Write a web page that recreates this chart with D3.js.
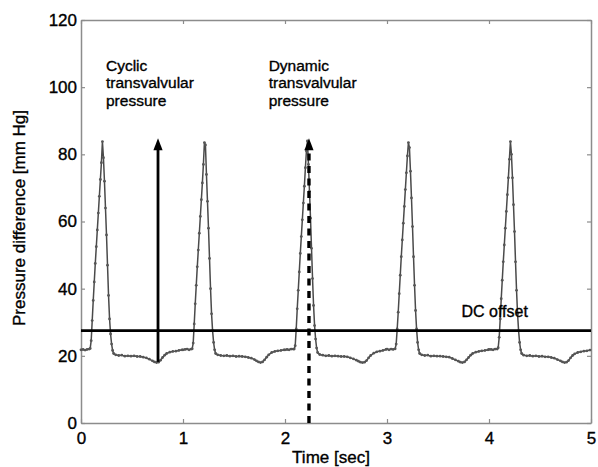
<!doctype html>
<html>
<head>
<meta charset="utf-8">
<style>
  body { margin: 0; background: #fff; }
  svg { font-family: "Liberation Sans", Arial, Helvetica, sans-serif; }
  svg text { stroke: #000; stroke-width: 0.35px; }
</style>
<script src="https://cdn.jsdelivr.net/npm/d3@7"></script>
</head>
<body>
<svg id="chart" width="598" height="467"></svg>
<script>

// sample instants inside one beat (sec after beat start)
var sampleOffsets = [0,0.02,0.04,0.06,0.08,
  0.09,0.10,0.11,0.12,0.13,0.14,0.15,0.16,0.17,0.18,0.19,0.20,0.21,0.22,0.23,0.24,0.25,0.26,0.27,0.28,0.29,0.30,0.31,0.32,
  0.34,0.37,0.40,0.43,0.46,0.49,0.52,0.55,0.58,0.61,0.64,0.67,0.70,
  0.72,0.74,0.76,0.78,0.80,0.82,0.84,
  0.87,0.90,0.93,0.96,0.99];
var beatStart = [0, 1, 2, 3, 4];

// pressure difference [mm Hg], one array per beat
var beat1 = [21.8,21.9,21.7,21.9,22.0,
  22.2,24.5,30.5,36.5,42.0,47.5,52.5,57.5,62.5,67.5,72.5,77.5,83.8,79.0,72.0,64.0,56.0,47.0,38.0,31.0,26.5,23.5,21.6,20.7,
  20.3,20.1,20.2,19.9,20.0,19.9,20.0,19.8,19.8,19.6,19.4,19.0,18.5,
  18.2,18.0,18.1,18.7,19.5,20.2,20.7,
  21.1,21.3,21.4,21.6,21.8];
var beat2 = [21.8,21.9,22.0,21.8,22.0,
  22.1,23.8,29.5,35.5,41.0,46.5,51.5,56.5,61.5,66.5,71.5,77.0,83.5,82.8,74.0,66.0,58.0,49.0,40.0,32.5,27.5,24.0,21.8,20.7,
  20.3,20.1,20.0,20.1,19.9,20.0,19.8,19.9,19.8,19.7,19.5,19.3,18.9,
  18.5,18.2,18.0,18.2,18.8,19.6,20.3,
  21.0,21.3,21.5,21.6,21.8];
var beat3 = [21.8,21.9,21.8,22.0,22.0,
  22.0,23.0,28.0,34.0,39.5,45.0,50.5,55.5,60.5,65.5,70.5,76.0,81.0,84.0,77.0,69.0,61.0,52.0,43.0,35.0,29.0,25.0,22.3,21.0,
  20.4,20.2,20.0,20.1,19.9,20.0,19.9,19.8,19.8,19.7,19.4,19.1,18.7,
  18.4,18.1,18.0,18.1,18.6,19.4,20.1,
  20.8,21.2,21.4,21.6,21.9];
var beat4 = [22.0,21.8,22.0,21.9,22.1,
  23.5,28.0,33.0,38.5,44.0,49.5,54.5,59.5,64.5,69.5,74.5,79.5,83.5,82.0,75.0,67.0,58.5,49.5,41.0,33.5,28.0,24.0,21.8,20.7,
  20.3,20.1,20.2,19.9,20.0,19.9,19.9,19.8,19.7,19.6,19.2,18.8,18.4,
  18.1,18.0,18.2,18.8,19.5,20.2,20.7,
  21.1,21.3,21.5,21.6,21.8];
var beat5 = [21.9,21.9,21.8,22.0,22.0,
  22.4,25.5,31.0,37.0,42.5,48.0,53.0,58.0,63.0,68.0,73.0,78.5,83.8,80.0,73.0,65.0,57.0,48.0,39.5,32.5,27.5,24.0,21.8,20.7,
  20.2,20.0,20.1,19.9,20.0,19.8,19.9,19.7,19.7,19.5,19.3,18.9,18.5,
  18.2,18.0,18.1,18.6,19.4,20.1,20.6,
  21.0,21.2,21.4,21.5,21.7];
var beats = [beat1, beat2, beat3, beat4, beat5];

var xTicks = [0, 1, 2, 3, 4, 5];
var yTicks = [0, 20, 40, 60, 80, 100, 120];
var dcOffset = 27.5;

// annotation arrows: time, start value, tip value
var arrowTimes = [0.755, 2.235];
var arrowFrom = [18.2, 0];
var arrowTo = [84.8, 84.8];

var noteLines = [["Cyclic", "transvalvular", "pressure"], ["Dynamic", "transvalvular", "pressure"], ["DC offset"]];
var noteTimes = [0.245, 1.84, 3.73];
var noteValues = [104.8, 104.8, 31.6];

var points = [];
beats.forEach(function(b, i) {
  b.forEach(function(v, j) { points.push({t: beatStart[i] + sampleOffsets[j], p: v}); });
});

var svg = d3.select("#chart");
var x = d3.scaleLinear().domain([0, 5]).range([81, 591]);
var y = d3.scaleLinear().domain([0, 120]).range([423, 20]);
var axisGrey = "#8c8c8c";

function styleAxis(g) {
  g.select(".domain").attr("stroke", axisGrey).attr("stroke-width", 1.5);
  g.selectAll(".tick line").attr("stroke", axisGrey).attr("stroke-width", 1.2);
  g.selectAll(".tick text").attr("fill", "#000");
}

svg.append("g").attr("transform", "translate(0,423)")
  .call(d3.axisBottom(x).tickValues(xTicks).tickSize(-4).tickSizeOuter(0).tickPadding(8.5).tickFormat(d3.format("d")))
  .call(styleAxis).attr("font-size", 17).attr("font-family", null);
svg.append("g").attr("transform", "translate(0,20)")
  .call(d3.axisTop(x).tickValues(xTicks).tickSize(-4).tickSizeOuter(0).tickFormat(""))
  .call(styleAxis);
svg.append("g").attr("transform", "translate(81,0)")
  .call(d3.axisLeft(y).tickValues(yTicks).tickSize(-4).tickSizeOuter(0).tickPadding(4).tickFormat(d3.format("d")))
  .call(styleAxis).attr("font-size", 17).attr("font-family", null);
svg.append("g").attr("transform", "translate(591,0)")
  .call(d3.axisRight(y).tickValues(yTicks).tickSize(-4).tickSizeOuter(0).tickFormat(""))
  .call(styleAxis);

// waveform
var line = d3.line().x(function(d) { return x(d.t); }).y(function(d) { return y(d.p); });
svg.append("path").datum(points)
  .attr("fill", "none").attr("stroke", "#4a4a4a").attr("stroke-width", 1.5)
  .attr("d", line);
svg.append("g").selectAll("circle").data(points).enter().append("circle")
  .attr("cx", function(d) { return x(d.t); })
  .attr("cy", function(d) { return y(d.p); })
  .attr("r", 1.4).attr("fill", "#555");

// DC offset line
svg.append("line")
  .attr("x1", x(0)).attr("x2", x(5)).attr("y1", y(dcOffset)).attr("y2", y(dcOffset))
  .attr("stroke", "#000").attr("stroke-width", 2.6);

// arrows
var headLen = 12, headHalf = 4.6;
arrowTimes.forEach(function(t, i) {
  var ax = x(t), tip = y(arrowTo[i]);
  svg.append("line")
    .attr("x1", ax).attr("x2", ax).attr("y1", y(arrowFrom[i])).attr("y2", tip + headLen - 1)
    .attr("stroke", "#000").attr("stroke-width", i === 0 ? 2.8 : 3.4)
    .attr("stroke-dasharray", i === 0 ? null : "7,5.5");
  svg.append("path")
    .attr("d", "M" + ax + "," + tip + "L" + (ax + headHalf) + "," + (tip + headLen) + "L" + (ax - headHalf) + "," + (tip + headLen) + "Z")
    .attr("fill", "#000");
});

// annotations
noteLines.forEach(function(lines, i) {
  var txt = svg.append("text")
    .attr("x", x(noteTimes[i])).attr("y", y(noteValues[i]))
    .attr("font-size", i === 2 ? 16 : 15.5).attr("fill", "#000");
  lines.forEach(function(s, k) {
    txt.append("tspan").attr("x", x(noteTimes[i])).attr("dy", k === 0 ? 0 : 17.3).text(s);
  });
});

// axis titles
svg.append("text").attr("x", 331).attr("y", 463).attr("text-anchor", "middle")
  .attr("font-size", 17).text("Time [sec]");
svg.append("text").attr("transform", "translate(25,218) rotate(-90)").attr("text-anchor", "middle")
  .attr("font-size", 17).text("Pressure difference [mm Hg]");

</script>
</body>
</html>
